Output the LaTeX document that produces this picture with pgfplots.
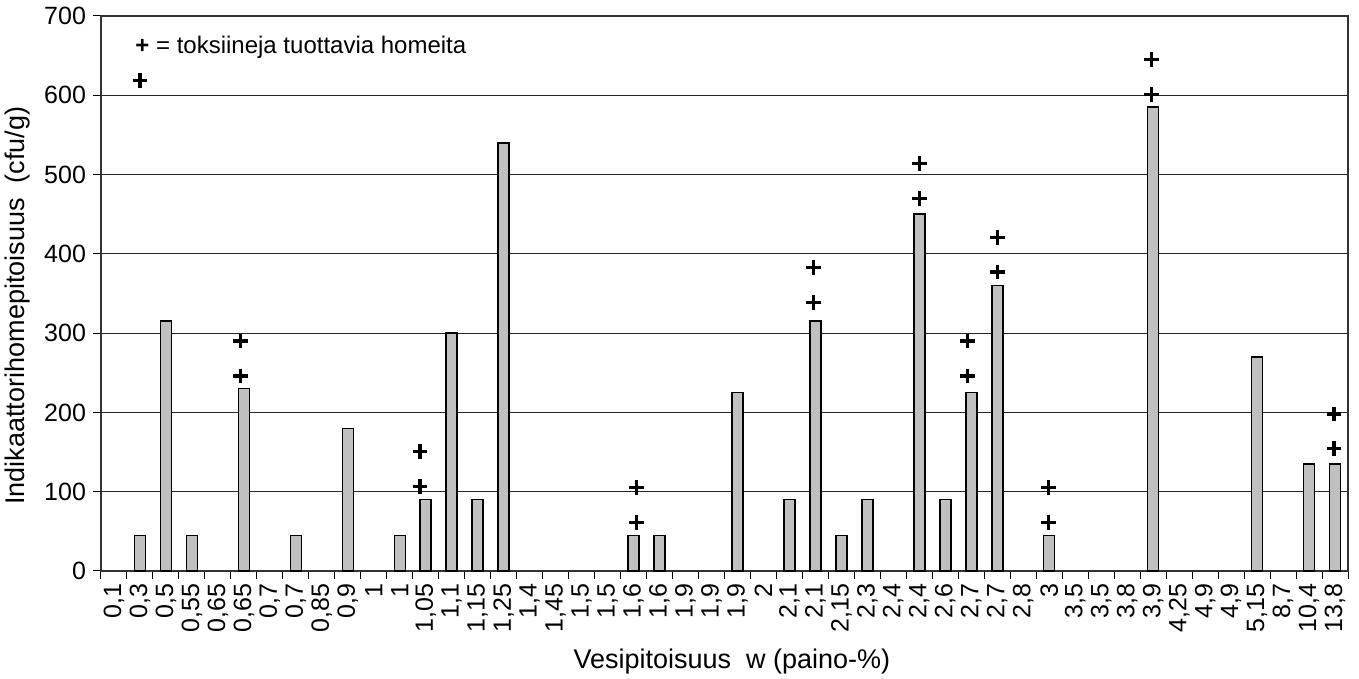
\documentclass[border=0pt]{standalone}
\usepackage{pgfplots}
\pgfplotsset{compat=1.18}
\usepackage{fontspec}
\setmainfont{Liberation Sans}

\definecolor{barfill}{RGB}{192,192,192}

\begin{document}
\begin{tikzpicture}
\path[use as bounding box] (-50.5pt,-54pt) rectangle (629pt,285.5pt);
\begin{axis}[
    scale only axis, width=623.5pt, height=277.5pt,
    xmin=-0.5, xmax=47.5, ymin=0, ymax=700,
    ytick={0,100,...,700},
    xtick={0,...,47},
    xticklabels={{0,1},{0,3},{0,5},{0,55},{0,65},{0,65},{0,7},{0,7},{0,85},{0,9},
        {1},{1},{1,05},{1,1},{1,15},{1,25},{1,4},{1,45},{1,5},{1,5},
        {1,6},{1,6},{1,9},{1,9},{1,9},{2},{2,1},{2,1},{2,15},{2,3},
        {2,4},{2,4},{2,6},{2,7},{2,7},{2,8},{3},{3,5},{3,5},{3,8},
        {3,9},{4,25},{4,9},{4,9},{5,15},{8,7},{10,4},{13,8}},
    minor xtick={-0.5,0.5,...,47.5},
    major x tick style={draw=none},
    minor x tick style={draw=black, line width=0.5pt},
    major y tick style={draw=black, line width=0.5pt},
    tick align=outside, tick pos=left,
    major tick length=4pt, minor tick length=4pt,
    ymajorgrids, grid style={black!85, line width=0.5pt},
    axis line style={draw=black!80, line width=1pt},
    xticklabel style={rotate=90, anchor=east, inner sep=2pt,
        font=\fontsize{12.5}{14}\selectfont},
    yticklabel style={font=\fontsize{12.5}{14}\selectfont},
    /pgf/number format/assume math mode=true,
    xlabel={Vesipitoisuus\ \ w (paino-\%)},
    ylabel={Indikaattorihomepitoisuus\ \ (cfu/g)},
    label style={font=\fontsize{13.5}{16}\selectfont},
    xlabel style={at={(ticklabel cs:0.506)}, yshift=-3pt},
    ylabel style={at={(ticklabel cs:0.478)}},
    clip=false,
]
% bars (zero categories left out)
\addplot[ybar, bar width=5.5pt, fill=barfill, draw=black, line width=0.75pt]
    coordinates {
    (1,45) (2,315) (3,45) (5,230) (7,45) (9,180) (11,45) (12,90) (13,300)
    (14,90) (15,540) (20,45) (21,45) (24,225) (26,90) (27,315) (28,45)
    (29,90) (31,450) (32,90) (33,225) (34,360) (36,45) (40,585) (44,270)
    (46,135) (47,135)
    };
% toxin producing moulds
\addplot[only marks, mark=+, mark size=3.7pt, line width=1.6pt, black]
    coordinates {
    (1,619)
    (4.87,246) (4.87,290)
    (11.78,107) (11.78,151)
    (20.12,61) (20.12,105)
    (26.94,339) (26.94,383)
    (31,470) (31,514)
    (32.85,246) (32.85,290)
    (34,377) (34,421)
    (35.97,61) (35.97,105)
    (39.94,601) (39.94,645)
    (46.96,154) (46.96,198)
    };
\node[anchor=west, inner sep=0pt, font=\fontsize{12}{14}\selectfont]
    at (axis cs:0.81,660) {\textbf{+} = toksiineja tuottavia homeita};
\end{axis}
\end{tikzpicture}
\end{document}
